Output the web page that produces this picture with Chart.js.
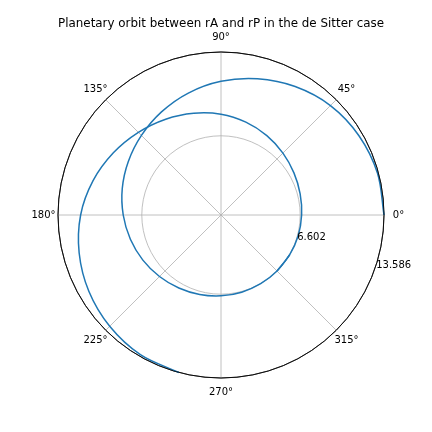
<!DOCTYPE html>
<html>
<head>
<meta charset="utf-8">
<script src="https://cdn.jsdelivr.net/npm/chart.js@4.4.1/dist/chart.umd.min.js"></script>
<style>
  html, body { margin: 0; padding: 0; background: #fff; }
  canvas { display: block; }
</style>
</head>
<body>
<canvas id="orbit" width="432" height="432"></canvas>
<script>
// directions the orbit is sampled at (degrees, counter-clockwise from 0°)
const thetaDeg = [0, 15, 30, 45, 60, 75, 90, 105, 120, 135, 150, 165,
                  180, 195, 210, 225, 240, 255, 270, 285, 300, 315, 330, 345];

// radius on the first turn, starting at rA
const rFirstTurn = [13.586, 13.50, 13.26, 12.90, 12.36, 11.75, 11.14, 10.52, 9.92, 9.38, 8.92, 8.52,
                    8.15, 7.82, 7.52, 7.25, 7.03, 6.86, 6.74, 6.66, 6.615, 6.602, 6.615, 6.66];

// radius on the second turn (theta + 360°), back at rA near 255°
const rSecondTurn = [6.72, 6.83, 7.02, 7.30, 7.64, 8.01, 8.40, 8.78, 9.22, 9.74, 10.36, 11.04,
                     11.70, 12.24, 12.72, 13.12, 13.44, 13.586, null, null, null, null, null, null];

const thetaTicks = [0, 45, 90, 135, 180, 225, 270, 315];
const rTicks = [6.602, 13.586];
const rMax = 13.586;

const blue = '#1f77b4';
const gridGray = '#b0b0b0';

// radar runs clockwise, so walk the directions backwards
const n = thetaDeg.length;
const order = thetaDeg.map((_, i) => (n - i) % n);
const labels = order.map(j => thetaDeg[j]);
// first turn stops before 345° so the radar does not close the loop,
// the second turn picks up from 315° and carries on past 360°
const firstTurn = order.map(j => thetaDeg[j] <= 330 ? rFirstTurn[j] : null);
const secondTurn = order.map(j => thetaDeg[j] >= 315 ? rFirstTurn[j] : rSecondTurn[j]);

// black rim drawn over the curve, like the polar spine
const spine = {
  id: 'spine',
  afterDatasetsDraw(chart) {
    const s = chart.scales.r;
    const ctx = chart.ctx;
    ctx.save();
    ctx.strokeStyle = '#000';
    ctx.lineWidth = 0.8;
    ctx.beginPath();
    ctx.arc(s.xCenter, s.yCenter, s.getDistanceFromCenterForValue(rMax), 0, Math.PI * 2);
    ctx.stroke();
    ctx.restore();
  }
};

// angle labels around the rim and radius labels below the 0° line
const polarText = {
  id: 'polarText',
  afterDraw(chart) {
    const s = chart.scales.r;
    const ctx = chart.ctx;
    ctx.save();
    ctx.fillStyle = '#000';
    ctx.font = '10px "DejaVu Sans"';

    ctx.textAlign = 'center';
    ctx.textBaseline = 'middle';
    thetaTicks.forEach(t => {
      const p = s.getPointPosition(labels.indexOf(t), s.drawingArea + 14.5);
      ctx.fillText(t + '°', p.x, p.y);
    });

    ctx.textAlign = 'left';
    ctx.textBaseline = 'alphabetic';
    const a = 19.5 * Math.PI / 180;
    rTicks.forEach(v => {
      const d = s.getDistanceFromCenterForValue(v);
      ctx.fillText(v.toFixed(3), s.xCenter + d * Math.cos(a) + 1.5, s.yCenter + d * Math.sin(a) - 1);
    });
    ctx.restore();
  }
};

Chart.defaults.font.family = '"DejaVu Sans", sans-serif';
Chart.defaults.color = '#000';

new Chart(document.getElementById('orbit'), {
  type: 'radar',
  data: {
    labels: labels,
    datasets: [
      { data: firstTurn, borderColor: blue, borderWidth: 1.5, fill: false,
        pointRadius: 0, tension: 0.34, clip: false },
      { data: secondTurn, borderColor: blue, borderWidth: 1.5, fill: false,
        pointRadius: 0, tension: 0.34, clip: false }
    ]
  },
  options: {
    responsive: false,
    animation: false,
    layout: { padding: { left: 58, right: 48, top: 0, bottom: 54 } },
    plugins: {
      legend: { display: false },
      tooltip: { enabled: false },
      title: {
        display: true,
        text: 'Planetary orbit between rA and rP in the de Sitter case',
        color: '#000',
        font: { size: 12, weight: 'normal', lineHeight: 1.2 },
        padding: { top: 17, bottom: 20.6 }
      }
    },
    scales: {
      r: {
        min: 0,
        max: rMax,
        startAngle: 90,
        afterBuildTicks: (scale) => {
          scale.ticks = [0].concat(rTicks).map(v => ({ value: v }));
        },
        ticks: { display: false },
        pointLabels: { display: false },
        grid: {
          circular: true,
          lineWidth: 0.8,
          color: (c) => c.tick && c.tick.value === rMax ? '#000' : gridGray
        },
        angleLines: {
          color: gridGray,
          lineWidth: (c) => c.index % 3 === 0 ? 0.8 : 0
        }
      }
    }
  },
  plugins: [spine, polarText]
});
</script>
</body>
</html>
